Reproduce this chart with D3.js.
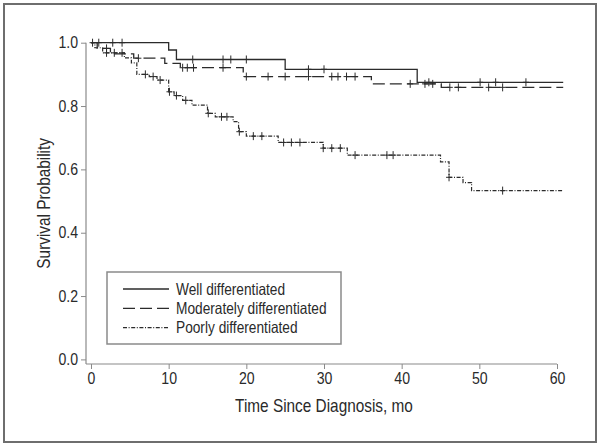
<!DOCTYPE html>
<html>
<head>
<meta charset="utf-8">
<script src="https://cdn.jsdelivr.net/npm/d3@7"></script>
<style>
  html, body { margin: 0; padding: 0; background: #fff; }
  svg { display: block; }
  text { font-family: "Liberation Sans Narrow", "Arial Narrow", "Liberation Sans", Arial, sans-serif; fill: #2a2a2a; }
</style>
</head>
<body>
<svg id="chart" width="600" height="447"></svg>
<script>
// ---------------- data ----------------
const seriesNames = ["Well differentiated", "Moderately differentiated", "Poorly differentiated"];

const wellTimes = [0, 10.0, 11.0, 25.0, 42.0];
const wellSurv  = [1.0, 0.977, 0.947, 0.916, 0.875];
const wellCensor = [0.2, 1.0, 2.8, 4.0, 13.1, 17.0, 18.0, 20.0, 28.0, 30.0, 43.5, 50.1, 52.1, 56.0];

const modTimes = [0, 0.8, 2.5, 5.5, 9.5, 11.5, 19.6, 36.1, 45.1];
const modSurv  = [1.0, 0.982, 0.965, 0.951, 0.935, 0.921, 0.893, 0.870, 0.859];
const modCensor = [2.0, 6.1, 11.8, 12.4, 13.2, 17.0, 20.0, 22.8, 25.0, 28.0, 31.0, 31.8, 32.9, 34.0, 41.1, 43.0, 44.0, 46.2, 47.3, 51.2, 53.0];

const poorTimes = [0, 0.5, 1.5, 4.3, 5.2, 5.9, 7.5, 8.5, 10.0, 10.7, 11.8, 13.0, 15.0, 16.0, 18.3, 19.0, 20.0, 24.1, 29.9, 33.0, 45.0, 46.1, 47.9, 49.0];
const poorSurv  = [1.0, 0.984, 0.968, 0.952, 0.936, 0.900, 0.893, 0.882, 0.845, 0.833, 0.818, 0.803, 0.777, 0.766, 0.751, 0.719, 0.705, 0.685, 0.667, 0.645, 0.624, 0.575, 0.558, 0.533];
const poorCensor = [2.0, 3.0, 4.0, 7.0, 8.0, 8.9, 10.1, 11.0, 12.2, 15.1, 16.8, 17.5, 19.1, 20.9, 22.0, 24.8, 25.8, 26.9, 29.9, 31.0, 32.1, 34.0, 38.1, 38.9, 46.1, 53.0];

const endTime = 60.8;
const xTicks = [0, 10, 20, 30, 40, 50, 60];
const yTicks = [0.0, 0.2, 0.4, 0.6, 0.8, 1.0];
const xTitle = "Time Since Diagnosis, mo";
const yTitle = "Survival Probability";

// ---------------- layout ----------------
const svg = d3.select("#chart");
const x = d3.scaleLinear().domain([0, 60]).range([91, 557]);
const y = d3.scaleLinear().domain([0, 1]).range([359.4, 42.7]);
const axisColor = "#8a8a8a";
const lineColor = "#2b2b2b";
const xAxisY = 364, yAxisX = 86;

// outer frame
svg.append("rect").attr("x", 4).attr("y", 4).attr("width", 592).attr("height", 438)
  .attr("fill", "none").attr("stroke", "#6e6e6e").attr("stroke-width", 2);

// axes
const yAxis = d3.axisLeft(y).tickValues(yTicks).tickFormat(d3.format(".1f")).tickSize(5).tickPadding(3).tickSizeOuter(0);
const gy = svg.append("g").attr("transform", `translate(${yAxisX},0)`).call(yAxis);
gy.select(".domain").remove();
gy.selectAll(".tick line").attr("stroke", axisColor);
gy.selectAll(".tick text").attr("font-size", 16).attr("class", "cond88").style("fill", "#2a2a2a");

const xAxis = d3.axisBottom(x).tickValues(xTicks).tickFormat(d3.format("d")).tickSize(5).tickPadding(4).tickSizeOuter(0);
const gx = svg.append("g").attr("transform", `translate(0,${xAxisY})`).call(xAxis);
gx.select(".domain").remove();
gx.selectAll(".tick line").attr("stroke", axisColor);
gx.selectAll(".tick text").attr("font-size", 16).attr("class", "cond88").style("fill", "#2a2a2a");

svg.append("line").attr("x1", yAxisX).attr("x2", yAxisX).attr("y1", y(1)).attr("y2", xAxisY)
  .attr("stroke", axisColor).attr("stroke-width", 1.2);
svg.append("line").attr("x1", yAxisX).attr("x2", x(60)).attr("y1", xAxisY).attr("y2", xAxisY)
  .attr("stroke", axisColor).attr("stroke-width", 1.2);

// titles
svg.append("text").attr("x", (x(0) + x(60)) / 2).attr("y", 411.5).attr("text-anchor", "middle")
  .attr("font-size", 18.5).attr("class", "cond").text(xTitle);
svg.append("text").attr("transform", `translate(50,${(y(1) + xAxisY) / 2}) rotate(-90)`)
  .attr("text-anchor", "middle").attr("font-size", 18.5).attr("class", "cond").text(yTitle);

// ---------------- curves ----------------
const series = [
  { name: seriesNames[0], t: wellTimes, s: wellSurv, c: wellCensor, dash: null, w: 1.3 },
  { name: seriesNames[1], t: modTimes, s: modSurv, c: modCensor, dash: "12,5", w: 1.3 },
  { name: seriesNames[2], t: poorTimes, s: poorSurv, c: poorCensor, dash: "4,1.6,1,1.6", w: 1.2 }
];

const line = d3.line().x(d => x(d[0])).y(d => y(d[1])).curve(d3.curveStepAfter);

function survAt(ser, t) {
  const i = d3.bisectRight(ser.t, t) - 1;
  return ser.s[Math.max(0, i)];
}

series.forEach(ser => {
  const pts = ser.t.map((t, i) => [t, ser.s[i]]);
  pts.push([endTime, ser.s[ser.s.length - 1]]);
  const p = svg.append("path").datum(pts).attr("d", line)
    .attr("fill", "none").attr("stroke", lineColor).attr("stroke-width", ser.w);
  if (ser.dash) p.attr("stroke-dasharray", ser.dash);

  svg.append("g").selectAll("path").data(ser.c).join("path")
    .attr("d", t => {
      const cx = x(t), cy = y(survAt(ser, t));
      return `M${cx - 3},${cy}H${cx + 3}M${cx},${cy - 4}V${cy + 4}`;
    })
    .attr("fill", "none").attr("stroke", lineColor).attr("stroke-width", 1);
});

// ---------------- legend ----------------
const lg = svg.append("g");
lg.append("rect").attr("x", 107).attr("y", 272).attr("width", 234).attr("height", 72)
  .attr("fill", "#fff").attr("stroke", "#8a8a8a").attr("stroke-width", 1.5);
series.forEach((ser, i) => {
  const cy = 289 + i * 19.3;
  const l = lg.append("line").attr("x1", 123).attr("x2", 169).attr("y1", cy).attr("y2", cy)
    .attr("stroke", lineColor).attr("stroke-width", ser.w);
  if (ser.dash) l.attr("stroke-dasharray", ser.dash);
  lg.append("text").attr("x", 176).attr("y", cy + 5.5).attr("font-size", 16.5).attr("class", "cond").text(ser.name);
});

// condense text to mimic a narrow typeface (keeps real text)
function condense(sel, k) {
  sel.each(function () {
    const w = this.getComputedTextLength();
    d3.select(this).attr("textLength", (w * k).toFixed(1)).attr("lengthAdjust", "spacingAndGlyphs");
  });
}
condense(svg.selectAll("text.cond"), 0.83);
condense(svg.selectAll("text.cond88"), 0.88);
</script>
</body>
</html>
